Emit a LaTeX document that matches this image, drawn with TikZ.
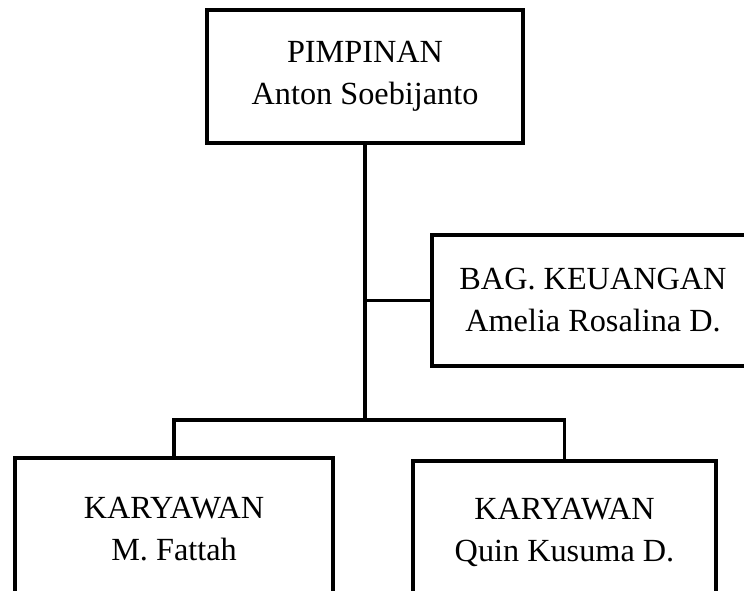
\documentclass[tikz,border=0pt]{standalone}
\usepackage{fontspec}
\setmainfont{Liberation Serif}
\begin{document}
\begin{tikzpicture}[x=0.75pt,y=-0.75pt,
  jabatan/.style={draw,line width=2.7pt,align=center,inner sep=0pt,
    font=\fontsize{24.2}{31.5}\selectfont},
  garis/.style={line width=2.6pt}]
\useasboundingbox (0,0) rectangle (744,591);

\node[jabatan,minimum width=237pt,minimum height=99.75pt] (pimpinan) at (365,76.5)
  {PIMPINAN\\Anton Soebijanto};
\node[jabatan,minimum width=241.5pt,minimum height=98.25pt] (keuangan) at (593,300.5)
  {BAG. KEUANGAN\\Amelia Rosalina D.};
\node[jabatan,minimum width=238.5pt,minimum height=106.5pt] (karyawanA) at (174,529)
  {KARYAWAN\\M. Fattah};
\node[jabatan,minimum width=227.25pt,minimum height=106.5pt] (karyawanB) at (564.5,532)
  {KARYAWAN\\Quin Kusuma D.};

% garis komando
\coordinate (bus) at (365,420);
\draw[garis] (pimpinan.south) -- (bus);
\draw[garis] (pimpinan.south |- keuangan.west) -- (keuangan.west);
\draw[garis] (karyawanA.north) |- (bus) -| (karyawanB.north);

\end{tikzpicture}
\end{document}
